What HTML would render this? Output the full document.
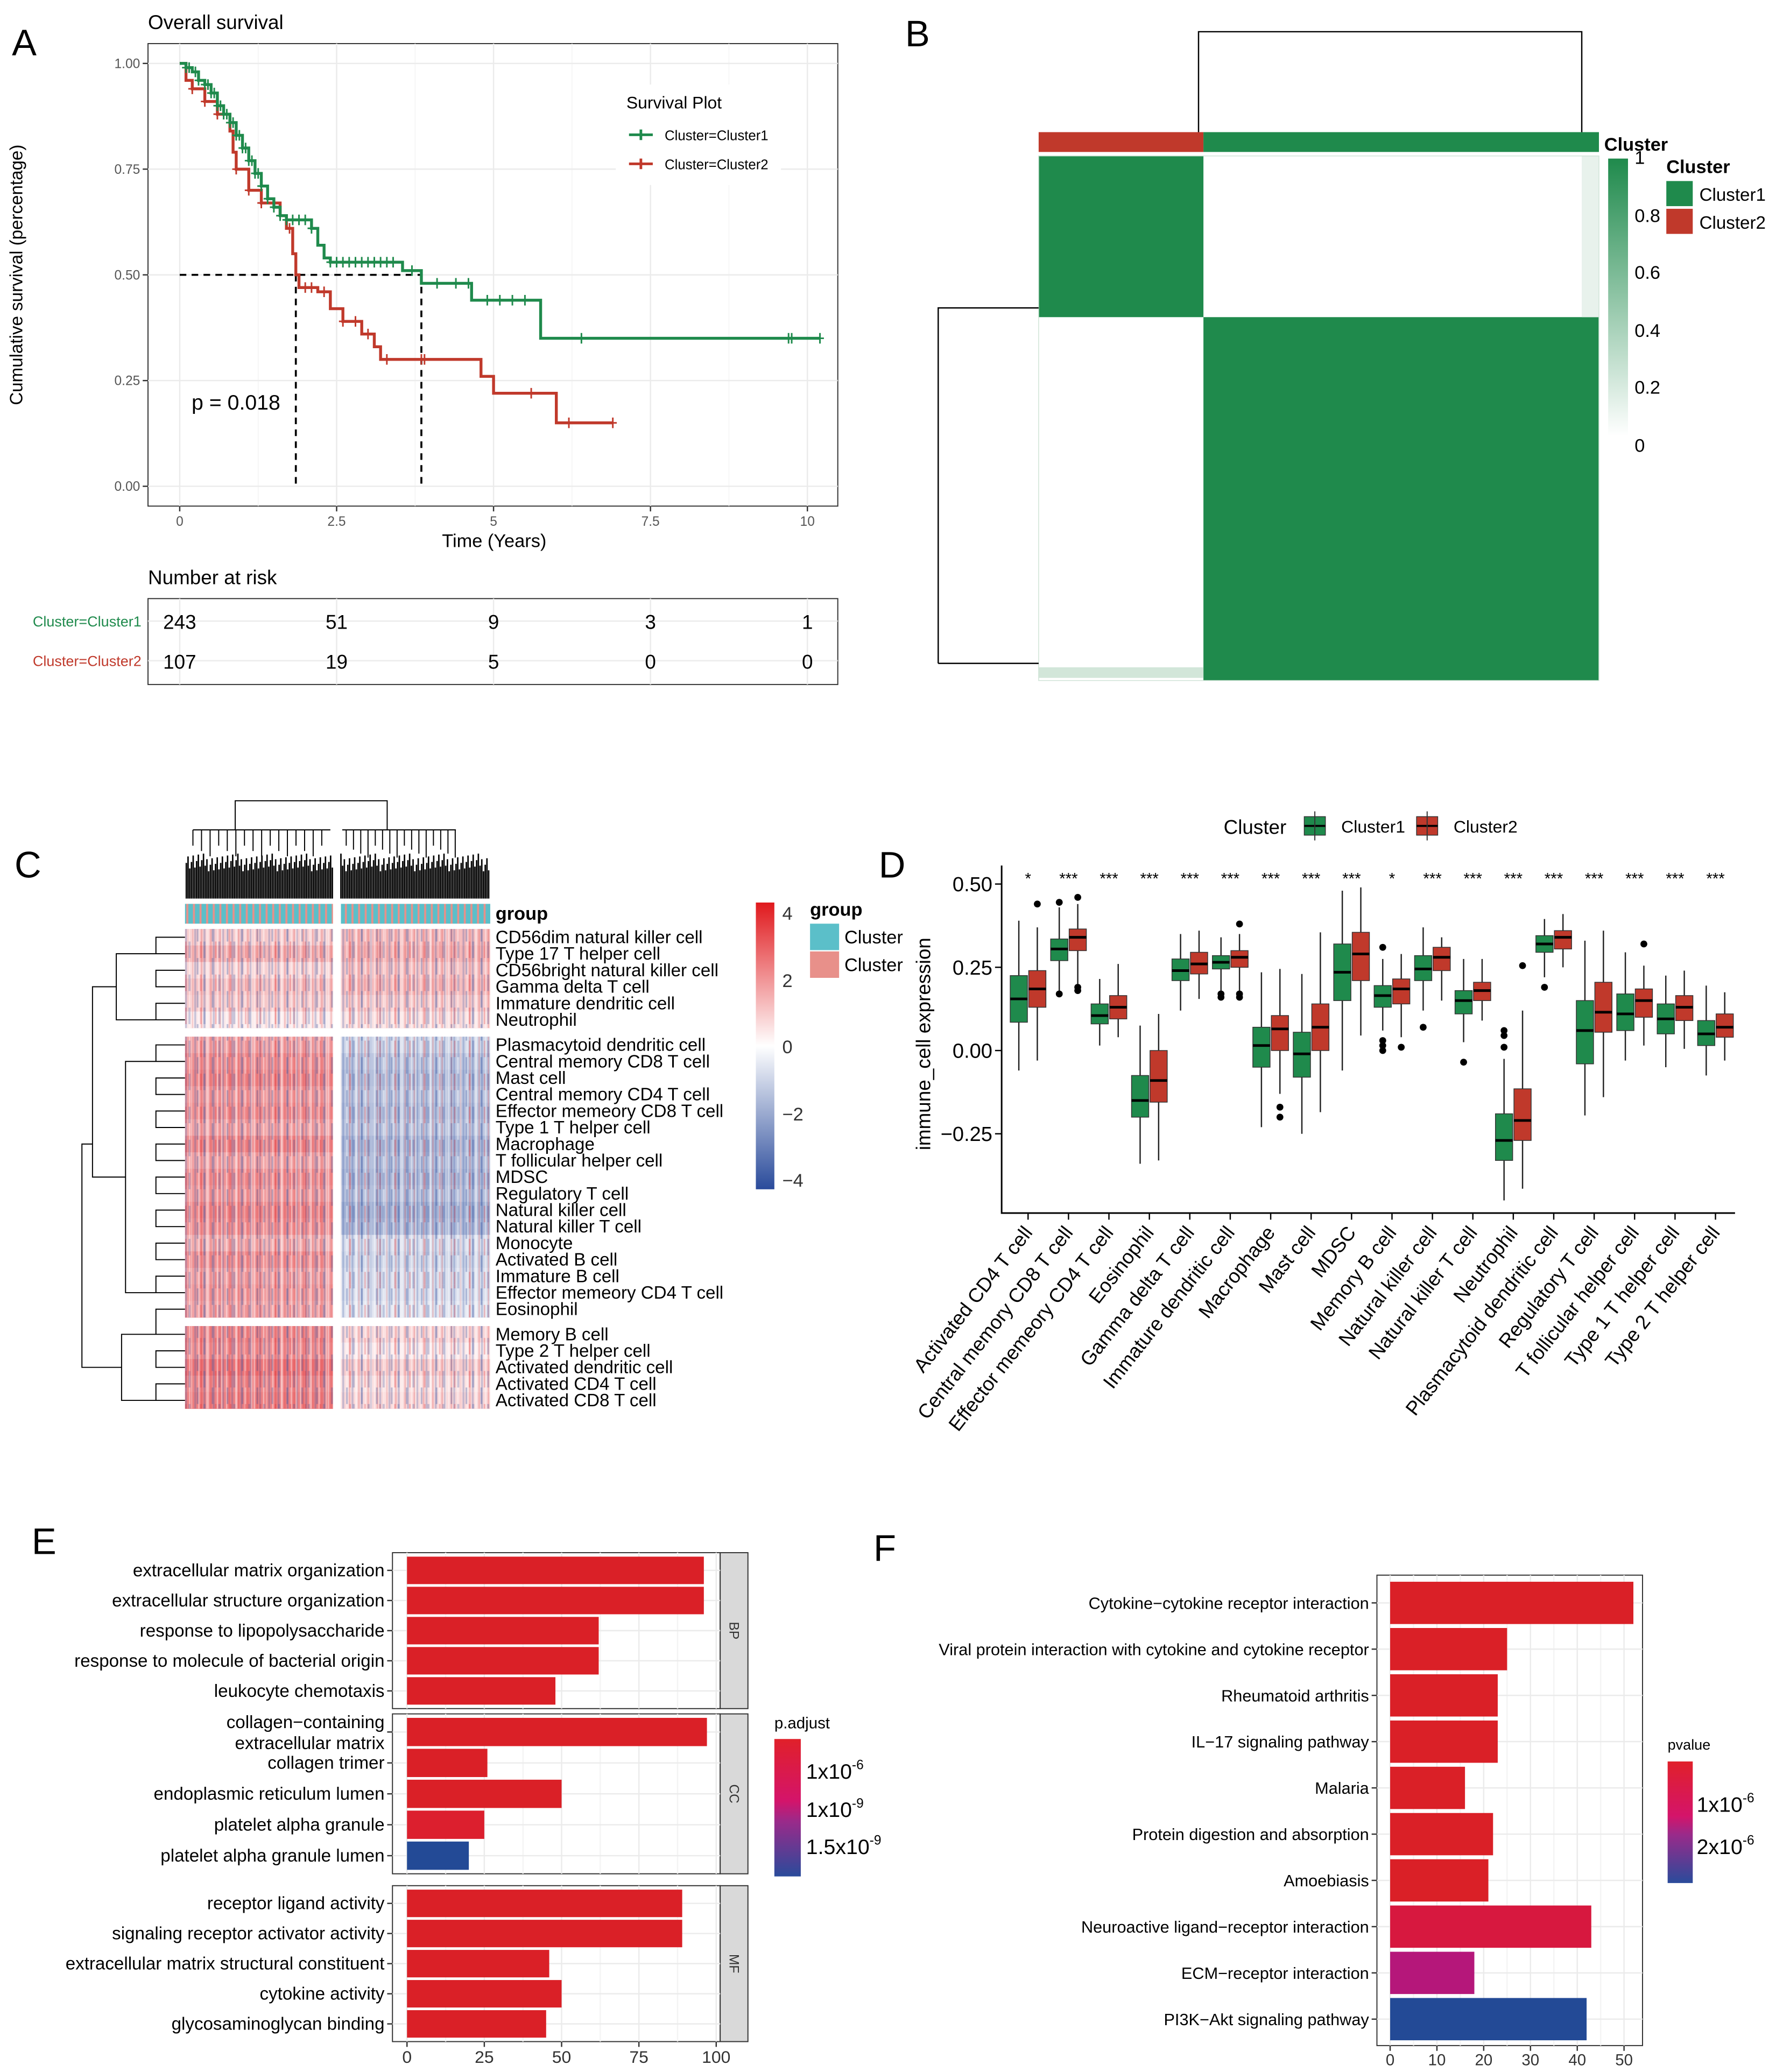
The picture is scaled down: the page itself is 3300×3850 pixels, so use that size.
<!DOCTYPE html>
<html><head><meta charset="utf-8"><style>
html,body{margin:0;padding:0;background:#fff}
svg{display:block}
text{font-family:"Liberation Sans",Arial,sans-serif}
</style></head><body>
<svg id="fig" width="3300" height="3850" viewBox="0 0 1344 1568" preserveAspectRatio="none" xmlns="http://www.w3.org/2000/svg">
<defs>
<pattern id="tex" width="7" height="12.5" patternUnits="userSpaceOnUse">
<rect x="0" y="0" width="1.5" height="12.5" fill="#3050a0" opacity="0.25"/>
<rect x="3" y="0" width="1" height="12.5" fill="#ffffff" opacity="0.4"/>
<rect x="5" y="0" width="1.2" height="12.5" fill="#d01818" opacity="0.2"/>
</pattern>
<pattern id="tex2" width="11.3" height="25" patternUnits="userSpaceOnUse">
<rect x="2" y="0" width="1.3" height="12.5" fill="#2a4b9b" opacity="0.3"/>
<rect x="7" y="12.5" width="1.6" height="12.5" fill="#2a4b9b" opacity="0.25"/>
<rect x="9" y="0" width="1.2" height="25" fill="#ffffff" opacity="0.35"/>
<rect x="4.5" y="12.5" width="1.2" height="12.5" fill="#e0191d" opacity="0.25"/>
</pattern>
<pattern id="ann" width="5" height="16" patternUnits="userSpaceOnUse">
<rect width="5" height="16" fill="#5bbfc9"/><rect x="1" width="1.5" height="16" fill="#e8908a"/>
</pattern>
<linearGradient id="gB" x1="0" y1="1" x2="0" y2="0"><stop offset="0" stop-color="#fff"/><stop offset="1" stop-color="#1f8a4c"/></linearGradient>
<linearGradient id="gC" x1="0" y1="0" x2="0" y2="1"><stop offset="0" stop-color="#e0191d"/><stop offset="0.5" stop-color="#ffffff"/><stop offset="1" stop-color="#2a4b9b"/></linearGradient>
<linearGradient id="gE" x1="0" y1="0" x2="0" y2="1"><stop offset="0" stop-color="#e0202a"/><stop offset="0.45" stop-color="#d4146a"/><stop offset="0.6" stop-color="#9a2a8a"/><stop offset="1" stop-color="#2a4b9b"/></linearGradient>
</defs>
<g id="labels" font-size="28">
<text x="9" y="42">A</text>
<text x="685" y="35">B</text>
<text x="11" y="664">C</text>
<text x="665" y="664">D</text>
<text x="24" y="1176">E</text>
<text x="661" y="1181">F</text>
</g>
<g id="pA"></g><g id="pB"></g><g id="pC"></g><g id="pD"></g><g id="pE"></g><g id="pF"></g>
</svg>
<script>
const NS="http://www.w3.org/2000/svg";
function el(tag,attrs,parent,txt){const e=document.createElementNS(NS,tag);for(const k in attrs)e.setAttribute(k,attrs[k]);if(txt!==undefined)e.textContent=txt;parent.appendChild(e);return e;}

/* ===== Panel A data ===== */
const kmTime1=[0,0.1,0.2,0.3,0.4,0.5,0.6,0.7,0.8,0.9,1.0,1.1,1.2,1.3,1.4,1.5,1.6,1.7,2.1,2.2,2.3,2.4,3.55,3.85,4.65,5.75];
const kmSurv1=[1,0.99,0.98,0.96,0.95,0.93,0.90,0.88,0.86,0.83,0.80,0.77,0.74,0.71,0.68,0.66,0.64,0.63,0.61,0.57,0.54,0.53,0.51,0.48,0.44,0.35];
const kmEnd1=10.2;
const kmTime2=[0,0.1,0.2,0.4,0.6,0.8,0.85,0.9,1.1,1.3,1.6,1.7,1.8,1.85,1.9,2.2,2.4,2.6,2.9,3.1,3.2,4.8,5.0,6.0];
const kmSurv2=[1,0.96,0.94,0.91,0.88,0.84,0.79,0.75,0.70,0.67,0.64,0.61,0.55,0.50,0.47,0.46,0.42,0.39,0.36,0.33,0.30,0.26,0.22,0.15];
const kmEnd2=6.9;
const cens1=[0.1,0.15,0.25,0.3,0.4,0.45,0.5,0.55,0.6,0.65,0.7,0.75,0.8,0.85,0.9,0.95,1.0,1.05,1.1,1.15,1.2,1.25,1.3,1.4,1.5,1.6,1.7,1.8,1.9,2.0,2.1,2.4,2.5,2.6,2.7,2.8,2.9,3.0,3.1,3.2,3.3,3.4,3.7,4.1,4.4,4.6,4.9,5.1,5.3,5.5,6.4,9.7,9.75,10.2];
const cens2=[0.2,0.4,0.6,0.9,1.1,1.3,1.5,1.75,2.0,2.1,2.3,2.6,2.8,3.0,3.3,3.85,3.9,5.6,6.2,6.9];
const medians=[1.85,3.85];
const riskTimes=[0,2.5,5,7.5,10];
const risk1=[243,51,9,3,1];
const risk2=[107,19,5,0,0];
const aXTicks=[0,2.5,5,7.5,10];
const aYTicks=[0,0.25,0.5,0.75,1];

(function(){
const g=document.getElementById('pA');
const X=t=>136+t*47.5, Y=s=>368-s*320;
el('rect',{x:112,y:33,width:522,height:350,fill:'#fff',stroke:'#333','stroke-width':0.8},g);
for(const t of [1.25,3.75,6.25,8.75]){const l=el('line',{x1:X(t),x2:X(t),y1:33,y2:383,stroke:'#f3f3f3','stroke-width':0.6},g);}
for(const t of aXTicks){const l=el('line',{x1:X(t),x2:X(t),y1:33,y2:383,stroke:'#ebebeb','stroke-width':1},g);
 const tx=el('text',{x:X(t),y:398,'font-size':10,fill:'#555','text-anchor':'middle'},g,String(t));
 el('line',{x1:X(t),x2:X(t),y1:383,y2:387,stroke:'#333'},g);}
for(const s of aYTicks){const l=el('line',{x1:112,x2:634,y1:Y(s),y2:Y(s),stroke:'#ebebeb','stroke-width':1},g);
 const tx=el('text',{x:106,y:Y(s)+3.5,'font-size':10,fill:'#555','text-anchor':'end'},g,s.toFixed(2));
 el('line',{x1:108,x2:112,y1:Y(s),y2:Y(s),stroke:'#333'},g);}
function curve(T,S,end,cens,col,name){
 let d='M'+X(T[0])+','+Y(S[0]);
 for(let i=1;i<T.length;i++){d+=' H'+X(T[i])+' V'+Y(S[i]);}
 d+=' H'+X(end);
 const p=el('path',{d:d,fill:'none',stroke:col,'stroke-width':2.2},g);
 for(const c of cens){let s=S[0];for(let i=0;i<T.length;i++)if(T[i]<=c)s=S[i];
  const m=el('path',{d:`M${X(c)-3},${Y(s)} h6 M${X(c)},${Y(s)-4} v8`,stroke:col,'stroke-width':1.2},g);}
}
const dl=el('path',{d:`M${X(0)},${Y(0.5)} H${X(medians[1])} M${X(medians[0])},${Y(0.5)} V${Y(0)} M${X(medians[1])},${Y(0.5)} V${Y(0)}`,stroke:'#000','stroke-width':1.5,'stroke-dasharray':'5,4',fill:'none'},g);

curve(kmTime2,kmSurv2,kmEnd2,cens2,'#c0392b','curve-cluster2');
curve(kmTime1,kmSurv1,kmEnd1,cens1,'#1f8a4c','curve-cluster1');
let t;
t=el('text',{x:145,y:310,'font-size':16},g,'p = 0.018');
t=el('text',{x:112,y:22,'font-size':15},g,'Overall survival');
t=el('text',{x:374,y:414,'font-size':14,'text-anchor':'middle'},g,'Time (Years)');
t=el('text',{x:0,y:0,'font-size':13.5,'text-anchor':'middle',transform:'translate(17,208) rotate(-90)'},g,'Cumulative survival (percentage)');
el('rect',{x:466,y:64,width:125,height:76,fill:'#fff'},g);
t=el('text',{x:474,y:82,'font-size':13},g,'Survival Plot');
const lg=[['#1f8a4c','Cluster=Cluster1',102],['#c0392b','Cluster=Cluster2',124]];
for(const [c,l,y] of lg){const e=el('path',{d:`M476,${y} h18 M485,${y-4} v8`,stroke:c,'stroke-width':2},g);
 const tt=el('text',{x:503,y:y+4,'font-size':10.5},g,l);}
t=el('text',{x:112,y:442,'font-size':15},g,'Number at risk');
el('rect',{x:112,y:453,width:522,height:65,fill:'#fff',stroke:'#333','stroke-width':0.8},g);
for(const tm of riskTimes)el('line',{x1:X(tm),x2:X(tm),y1:453,y2:518,stroke:'#ebebeb'},g);
el('line',{x1:112,x2:634,y1:470,y2:470,stroke:'#ebebeb'},g);el('line',{x1:112,x2:634,y1:500,y2:500,stroke:'#ebebeb'},g);
t=el('text',{x:107,y:474,'font-size':11,fill:'#1f8a4c','text-anchor':'end'},g,'Cluster=Cluster1');
t=el('text',{x:107,y:504,'font-size':11,fill:'#c0392b','text-anchor':'end'},g,'Cluster=Cluster2');
riskTimes.forEach((tm,i)=>{
 const a=el('text',{x:X(tm),y:476,'font-size':15,'text-anchor':'middle'},g,String(risk1[i]));
 const b=el('text',{x:X(tm),y:506,'font-size':15,'text-anchor':'middle'},g,String(risk2[i]));
});
})();

/* ===== Panel B ===== */
const consensusSizes=[100,240];
(function(){
const g=document.getElementById('pB');
const x0=786,x1=1210,y0=118,y1=515;const split=x0+(x1-x0)*consensusSizes[0]/(consensusSizes[0]+consensusSizes[1]);
let r;
r=el('rect',{x:x0,y:100,width:split-x0,height:15,fill:'#c0392b'},g);
r=el('rect',{x:split,y:100,width:x1-split,height:15,fill:'#1f8a4c'},g);
r=el('rect',{x:x0,y:y0,width:split-x0,height:240-y0,fill:'#1f8a4c'},g);
r=el('rect',{x:split,y:240,width:x1-split,height:y1-240,fill:'#1f8a4c'},g);
el('rect',{x:1197,y:118,width:13,height:122,fill:'#e8f2ec'},g);
el('rect',{x:x0,y:505,width:split-x0,height:8,fill:'#d2e6d9'},g);
el('rect',{x:x0,y:y0,width:x1-x0,height:y1-y0,fill:'none',stroke:'#cfe3d6','stroke-width':0.6},g);
const dd=el('path',{d:'M907,100 V24 H1197 V100 M710,502 V233 H786 M710,502 H786',fill:'none',stroke:'#000','stroke-width':1},g);
let t=el('text',{x:1214,y:114,'font-size':14,'font-weight':'bold'},g,'Cluster');
r=el('rect',{x:1217,y:120,width:15,height:210,fill:'url(#gB)'},g);
[['1',124],['0.8',168],['0.6',211],['0.4',255],['0.2',298],['0',342]].forEach(([l,y])=>{const q=el('text',{x:1237,y:y,'font-size':14},g,l);});
t=el('text',{x:1261,y:131,'font-size':14,'font-weight':'bold'},g,'Cluster');
r=el('rect',{x:1261,y:137,width:20,height:19,fill:'#1f8a4c'},g);
r=el('rect',{x:1261,y:158,width:20,height:19,fill:'#c0392b'},g);
t=el('text',{x:1286,y:152,'font-size':13.5},g,'Cluster1');
t=el('text',{x:1286,y:173,'font-size':13.5},g,'Cluster2');
})();

/* ===== Panel C ===== */
const cRows=['CD56dim natural killer cell','Type 17 T helper cell','CD56bright natural killer cell','Gamma delta T cell','Immature dendritic cell','Neutrophil',
'Plasmacytoid dendritic cell','Central memory CD8 T cell','Mast cell','Central memory CD4 T cell','Effector memeory CD8 T cell','Type 1 T helper cell','Macrophage','T follicular helper cell','MDSC','Regulatory T cell','Natural killer cell','Natural killer T cell','Monocyte','Activated B cell','Immature  B cell','Effector memeory CD4 T cell','Eosinophil',
'Memory B cell','Type 2 T helper cell','Activated dendritic cell','Activated CD4 T cell','Activated CD8 T cell'];
const cGroup=[0,0,0,0,0,0,1,1,1,1,1,1,1,1,1,1,1,1,1,1,1,1,1,2,2,2,2,2];
const cMeanLeft=[0.5,0.8,0.4,0.6,0.5,0.2,0.9,1.1,1.2,1.0,1.1,0.9,1.2,0.9,1.1,1.0,1.2,1.1,0.8,1.1,0.9,1.0,0.9,1.2,1.1,1.4,1.2,1.3];
const cMeanRight=[0.7,0.8,0.6,0.7,0.5,0.3,-0.5,-0.7,-0.8,-0.7,-0.8,-0.7,-0.9,-0.8,-0.9,-0.8,-1.0,-0.9,-0.4,-0.5,-0.4,-0.4,-0.3,0.4,0.2,0.5,0.3,0.4];
(function(){
const g=document.getElementById('pC');
function col(v){const t=Math.max(-1,Math.min(1,v/4));
 if(t>=0){return `rgb(${Math.round(255+(224-255)*t)},${Math.round(255+(25-255)*t)},${Math.round(255+(29-255)*t)})`;}
 const u=-t;return `rgb(${Math.round(255+(42-255)*u)},${Math.round(255+(75-255)*u)},${Math.round(255+(155-255)*u)})`;}
const rh=12.5;let y=703;const ys=[];
cRows.forEach((name,i)=>{if(i>0&&cGroup[i]!==cGroup[i-1])y+=6.5;ys.push(y);
 const a=el('rect',{x:140,y:y,width:112,height:rh+0.2,fill:col(cMeanLeft[i]*1.7)},g);
 const b=el('rect',{x:258,y:y,width:113,height:rh+0.2,fill:col(cMeanRight[i]*1.7)},g);
 el('rect',{x:140,y:y,width:112,height:rh,fill:'url(#tex)'},g);el('rect',{x:258,y:y,width:113,height:rh,fill:'url(#tex)'},g);
 el('rect',{x:140,y:y,width:112,height:rh,fill:'url(#tex2)'},g);el('rect',{x:258,y:y,width:113,height:rh,fill:'url(#tex2)'},g);
 const t=el('text',{x:375,y:y+rh/2+4.5,'font-size':13.5},g,name);
 y+=rh;});
let r=el('rect',{x:140,y:684,width:112,height:15,fill:'url(#ann)'},g);
r=el('rect',{x:258,y:684,width:113,height:15,fill:'url(#ann)'},g);
let t=el('text',{x:375,y:696,'font-size':14,'font-weight':'bold'},g,'group');
let d='M178,628 V606 H293 V628 M146,628 H250 M259,628 H345';
for(let i=0;i<16;i++){const xa=146+i*6.5;d+=` M${xa},628 V${640+(i%3)*4}`;const xb=262+i*5.5;d+=` M${xb},628 V${640+(i%4)*3}`;}
const cd=el('path',{d:d,fill:'none',stroke:'#000','stroke-width':0.8},g);
let dense='';for(let xx=141;xx<371;xx+=1.3){if(xx>252&&xx<258)continue;dense+=`M${xx.toFixed(1)},680 V${(646+((xx*7)%14)).toFixed(1)} `;}
const dn=el('path',{d:dense,stroke:'#000','stroke-width':1.1,fill:'none'},g);
let rd='';const mid=ys.map(v=>v+rh/2);
for(let i=0;i<mid.length-1;i+=2){rd+=`M140,${mid[i]} H118 V${mid[i+1]} H140 `;}
rd+=`M118,${mid[1]} H88 V${mid[5]} H118 M118,${mid[7]} H95 V${mid[21]} H118 M118,${mid[23]} H92 V${mid[27]} H118 M88,${(mid[1]+mid[5])/2} H70 V${(mid[7]+mid[21])/2} H95 M70,${mid[12]} H62 V${(mid[23]+mid[27])/2} H92`;
const rdd=el('path',{d:rd,fill:'none',stroke:'#000','stroke-width':0.8},g);
r=el('rect',{x:572,y:683,width:14,height:217,fill:'url(#gC)'},g);
[['4',691],['2',742],['0',792],['\u22122',843],['\u22124',893]].forEach(([l,yy])=>{const q=el('text',{x:592,y:yy+5,'font-size':14,fill:'#333'},g,l);});
t=el('text',{x:613,y:693,'font-size':14,'font-weight':'bold'},g,'group');
r=el('rect',{x:613,y:699,width:22,height:20,fill:'#5bbfc9'},g);
r=el('rect',{x:613,y:720,width:22,height:20,fill:'#e8908a'},g);
t=el('text',{x:639,y:714,'font-size':14},g,'Cluster');
t=el('text',{x:639,y:735,'font-size':14},g,'Cluster');
})();

/* ===== Panel D ===== */
const dCats=['Activated CD4 T cell','Central memory CD8 T cell','Effector memeory CD4 T cell','Eosinophil','Gamma delta T cell','Immature dendritic cell','Macrophage','Mast cell','MDSC','Memory B cell','Natural killer cell','Natural killer T cell','Neutrophil','Plasmacytoid dendritic cell','Regulatory T cell','T follicular helper cell','Type 1 T helper cell','Type 2 T helper cell'];
const dSig=['*','***','***','***','***','***','***','***','***','*','***','***','***','***','***','***','***','***'];
const c1Low=[-0.06,0.17,0.015,-0.34,0.12,0.18,-0.23,-0.25,-0.06,0.06,0.12,0.025,-0.45,0.22,-0.195,-0.03,-0.05,-0.075];
const c1Q1=[0.085,0.27,0.08,-0.20,0.21,0.245,-0.05,-0.08,0.15,0.13,0.21,0.11,-0.33,0.295,-0.04,0.06,0.05,0.015];
const c1Med=[0.155,0.305,0.105,-0.15,0.24,0.265,0.015,-0.01,0.235,0.165,0.245,0.15,-0.27,0.32,0.06,0.11,0.095,0.05];
const c1Q3=[0.225,0.335,0.14,-0.075,0.275,0.285,0.07,0.055,0.32,0.195,0.285,0.18,-0.19,0.345,0.15,0.17,0.14,0.09];
const c1High=[0.39,0.43,0.215,0.075,0.35,0.34,0.235,0.23,0.48,0.275,0.37,0.275,-0.025,0.395,0.33,0.295,0.225,0.195];
const c2Low=[-0.03,0.2,0.04,-0.33,0.155,0.18,-0.13,-0.185,0.045,0.04,0.15,0.09,-0.415,0.25,-0.14,0.015,0.005,-0.03];
const c2Q1=[0.13,0.30,0.095,-0.155,0.23,0.25,0,0,0.21,0.14,0.24,0.15,-0.27,0.305,0.055,0.10,0.09,0.04];
const c2Med=[0.185,0.34,0.13,-0.09,0.26,0.28,0.065,0.07,0.29,0.185,0.28,0.18,-0.21,0.34,0.115,0.15,0.13,0.07];
const c2Q3=[0.24,0.365,0.165,0,0.295,0.30,0.105,0.14,0.355,0.215,0.31,0.205,-0.115,0.36,0.205,0.185,0.165,0.11];
const c2High=[0.37,0.44,0.26,0.11,0.36,0.35,0.245,0.355,0.49,0.29,0.34,0.275,0.12,0.41,0.36,0.255,0.24,0.175];
const c1Out=[[],[0.445,0.17],[],[],[],[0.16,0.17],[],[],[],[0.31,0.03,0.015,0],[0.07],[-0.035],[0.06,0.045,0.01],[0.19],[],[],[],[]];
const c2Out=[[0.44],[0.46,0.19,0.18],[],[],[],[0.38,0.16,0.17],[-0.17,-0.20],[],[],[0.01],[],[],[0.255],[],[],[0.32],[],[]];
const dYTicks=[-0.25,0,0.25,0.5];
(function(){
const g=document.getElementById('pD');
const Y=v=>795-v*252, X=i=>778+i*30.6;
const ax=el('path',{d:'M758,655 V918 H1313',fill:'none',stroke:'#000','stroke-width':1.2},g);
for(const v of dYTicks){el('line',{x1:753,x2:758,y1:Y(v),y2:Y(v),stroke:'#000'},g);
 const t=el('text',{x:751,y:Y(v)+5.5,'font-size':15.5,'text-anchor':'end'},g,(v<0?'\u2212':'')+Math.abs(v).toFixed(2));}
let t=el('text',{x:0,y:0,'font-size':15,'text-anchor':'middle',transform:'translate(704,790) rotate(-90)'},g,'immune_cell expression');
function box(cx,lo,q1,md,q3,hi,outs,fill,name){
 const w=el('line',{x1:cx,x2:cx,y1:Y(hi),y2:Y(lo),stroke:'#222','stroke-width':1},g);
 const b=el('rect',{x:cx-6.5,y:Y(q3),width:13,height:Y(q1)-Y(q3),fill:fill,stroke:'#333','stroke-width':0.6},g);
 const m=el('line',{x1:cx-6.5,x2:cx+6.5,y1:Y(md),y2:Y(md),stroke:'#000','stroke-width':2},g);
 for(const o of outs){const c=el('circle',{cx:cx,cy:Y(o),r:2.6,fill:'#000'},g);}
}
dCats.forEach((c,i)=>{
 box(X(i)-7,c1Low[i],c1Q1[i],c1Med[i],c1Q3[i],c1High[i],c1Out[i],'#1f8a4c','box-cluster1');
 box(X(i)+7,c2Low[i],c2Q1[i],c2Med[i],c2Q3[i],c2High[i],c2Out[i],'#c0392b','box-cluster2');
 el('line',{x1:X(i),x2:X(i),y1:918,y2:923,stroke:'#000'},g);
 const s=el('text',{x:X(i),y:669,'font-size':12,'text-anchor':'middle'},g,dSig[i]);
 const l=el('text',{x:0,y:0,'font-size':15,'text-anchor':'end',transform:`translate(${X(i)+4},${933}) rotate(-52)`},g,c);
});
t=el('text',{x:926,y:631,'font-size':15},g,'Cluster');
[['#1f8a4c','Cluster1',987],['#c0392b','Cluster2',1072]].forEach(([c,l,x])=>{
 const k=el('rect',{x:x,y:618,width:16,height:14,fill:c,stroke:'#333','stroke-width':0.6},g);
 el('line',{x1:x,x2:x+16,y1:625,y2:625,stroke:'#000','stroke-width':1.5},g);el('line',{x1:x+8,x2:x+8,y1:614,y2:636,stroke:'#333','stroke-width':0.8},g);
 const tt=el('text',{x:x+28,y:630,'font-size':13},g,l);});
})();

/* ===== Panel E ===== */
const eTerms=['extracellular matrix organization','extracellular structure organization','response to lipopolysaccharide','response to molecule of bacterial origin','leukocyte chemotaxis',
'collagen\u2212containing|extracellular matrix','collagen trimer','endoplasmic reticulum lumen','platelet alpha granule','platelet alpha granule lumen',
'receptor ligand activity','signaling receptor activator activity','extracellular matrix structural constituent','cytokine activity','glycosaminoglycan binding'];
const eCounts=[96,96,62,62,48,97,26,50,25,20,89,89,46,50,45];
const eColors=['#da2027','#da2027','#da2027','#da2027','#da2027','#da2027','#da2027','#da2027','#dc1f2e','#234a96','#da2027','#da2027','#da2027','#da2027','#da2027'];
const eFacets=['BP','CC','MF'];
const eXTicks=[0,25,50,75,100];
(function(){
const g=document.getElementById('pE');
const X=v=>308+v*2.34;
const panels=[[1175,1293],[1297,1418],[1427,1545]];
panels.forEach(([a,b],p)=>{
 el('rect',{x:297,y:a,width:248,height:b-a,fill:'#fff',stroke:'#333','stroke-width':0.8},g);
 for(const v of eXTicks)el('line',{x1:X(v),x2:X(v),y1:a,y2:b,stroke:'#ebebeb'},g);
 for(const v of [12.5,37.5,62.5,87.5])el('line',{x1:X(v),x2:X(v),y1:a,y2:b,stroke:'#f4f4f4'},g);
 const s=el('rect',{x:545,y:a,width:21,height:b-a,fill:'#d9d9d9',stroke:'#333','stroke-width':0.8},g);
 const t=el('text',{x:0,y:0,'font-size':10,fill:'#333','text-anchor':'middle',transform:`translate(552,${(a+b)/2}) rotate(90)`},g,eFacets[p]);
});
eTerms.forEach((term,i)=>{
 const p=Math.floor(i/5),j=i%5;const[a,b]=panels[p];const step=(b-a-4)/5;const cy=a+2+step*(j+0.5);
 el('line',{x1:297,x2:545,y1:cy,y2:cy,stroke:'#ebebeb'},g);
 const r=el('rect',{x:X(0),y:cy-step/2+1,width:X(eCounts[i])-X(0),height:step-2,fill:eColors[i]},g);
 el('line',{x1:293,x2:297,y1:cy,y2:cy,stroke:'#333'},g);
 const parts=term.split('|');
 if(parts.length===1){const t=el('text',{x:291,y:cy+4.5,'font-size':13.5,'text-anchor':'end'},g,term);}
 else{const t=el('text',{x:291,y:cy-3,'font-size':13.5,'text-anchor':'end'},g,parts[0]);
  const t2=el('text',{x:291,y:cy+13,'font-size':13.5,'text-anchor':'end'},g,parts[1]);}
});
for(const v of eXTicks){el('line',{x1:X(v),x2:X(v),y1:1545,y2:1549,stroke:'#333'},g);
 const t=el('text',{x:X(v),y:1561,'font-size':13,fill:'#333','text-anchor':'middle'},g,String(v));}
let t=el('text',{x:586,y:1308,'font-size':12},g,'p.adjust');
const r=el('rect',{x:586,y:1316,width:20,height:104,fill:'url(#gE)'},g);
[['1x10','-6',1346],['1x10','-9',1375],['1.5x10','-9',1403]].forEach(([a,b,y])=>{const q=el('text',{x:610,y:y,'font-size':16},g);
 el('tspan',{},q,a);el('tspan',{dy:-7,'font-size':10},q,b);});
})();

/* ===== Panel F ===== */
const fTerms=['Cytokine\u2212cytokine receptor interaction','Viral protein interaction with cytokine and cytokine receptor','Rheumatoid arthritis','IL\u221217 signaling pathway','Malaria','Protein digestion and absorption','Amoebiasis','Neuroactive ligand\u2212receptor interaction','ECM\u2212receptor interaction','PI3K\u2212Akt signaling pathway'];
const fCounts=[52,25,23,23,16,22,21,43,18,42];
const fColors=['#da2027','#da2027','#da2027','#da2027','#da2027','#da2027','#da2027','#d7183f','#b5177a','#234a96'];
const fXTicks=[0,10,20,30,40,50];
(function(){
const g=document.getElementById('pF');
const X=v=>1052+v*3.54;
el('rect',{x:1042,y:1192,width:201,height:356,fill:'#fff',stroke:'#333','stroke-width':0.8},g);
for(const v of fXTicks)el('line',{x1:X(v),x2:X(v),y1:1192,y2:1548,stroke:'#ebebeb'},g);
for(const v of [5,15,25,35,45])el('line',{x1:X(v),x2:X(v),y1:1192,y2:1548,stroke:'#f4f4f4'},g);
fTerms.forEach((term,i)=>{const cy=1213+i*35;
 el('line',{x1:1042,x2:1243,y1:cy,y2:cy,stroke:'#ebebeb'},g);
 const r=el('rect',{x:X(0),y:cy-16,width:X(fCounts[i])-X(0),height:32,fill:fColors[i]},g);
 el('line',{x1:1038,x2:1042,y1:cy,y2:cy,stroke:'#333'},g);
 const t=el('text',{x:1036,y:cy+4.5,'font-size':12.5,'text-anchor':'end'},g,term);});
for(const v of fXTicks){el('line',{x1:X(v),x2:X(v),y1:1548,y2:1552,stroke:'#333'},g);
 const t=el('text',{x:X(v),y:1563,'font-size':12,fill:'#333','text-anchor':'middle'},g,String(v));}
let t=el('text',{x:1262,y:1324,'font-size':11},g,'pvalue');
const r=el('rect',{x:1262,y:1333,width:19,height:92,fill:'url(#gE)'},g);
[['1x10','-6',1371],['2x10','-6',1403]].forEach(([a,b,y])=>{const q=el('text',{x:1284,y:y,'font-size':16},g);
 el('tspan',{},q,a);el('tspan',{dy:-7,'font-size':10},q,b);});
})();
</script>
</body></html>
